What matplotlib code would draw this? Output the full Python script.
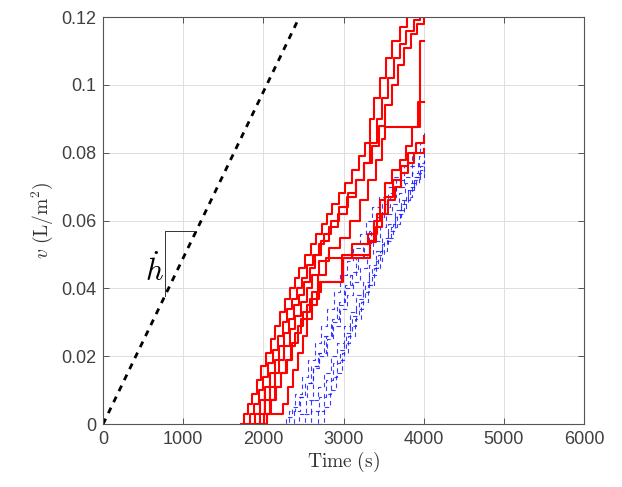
import matplotlib
matplotlib.use("Agg")
import matplotlib.pyplot as plt
import numpy as np

plt.rcParams['mathtext.fontset'] = 'cm'
plt.rcParams['font.family'] = ['Liberation Sans', 'DejaVu Sans']

# --- data -------------------------------------------------------------
# reference line (constant rate h-dot)
ref_t = [0, 2450]
ref_v = [0.0, 0.12]

# slope triangle
tri_t = [773, 773, 1160]
tri_v = [0.0379, 0.0569, 0.0569]

# red (solid) step curves: time (s), v (L/m^2)
red_t = [
    [1720, 1760, 1810, 1860, 1920, 1970, 2030, 2090, 2150, 2210, 2270, 2330, 2390, 2450, 2520, 2590, 2660, 2730, 2790, 2860, 2940, 3020, 3100, 3190, 3270, 3330, 3380, 3460, 3530, 3600, 3700, 3790, 4000],
    [1780, 1830, 1880, 1940, 2000, 2060, 2120, 2180, 2240, 2300, 2360, 2420, 2480, 2550, 2620, 2690, 2760, 2840, 2940, 3050, 3150, 3250, 3330, 3420, 3480, 3560, 3630, 3700, 3780, 3880, 3960, 4000],
    [1850, 1900, 1960, 2020, 2080, 2140, 2200, 2260, 2320, 2380, 2440, 2510, 2580, 2650, 2720, 2820, 2930, 3040, 3150, 3260, 3350, 3440, 3520, 3600, 3680, 3760, 3840, 3920, 4000],
    [1900, 1960, 2020, 2080, 2140, 2200, 2260, 2330, 2400, 2470, 2540, 2610, 2700, 2820, 2950, 3080, 3200, 3310, 3400, 3480, 3520, 3950, 4000],
    [1950, 2010, 2080, 2150, 2220, 2290, 2360, 2430, 2500, 2580, 2700, 2980, 3330, 3380, 3450, 3520, 3600, 3700, 3780, 3860, 3930, 4000],
    [2000, 2050, 2250, 2310, 2370, 2430, 2490, 2550, 2610, 2670, 2720, 2990, 3100, 3300, 3420, 3520, 3620, 3720, 3800, 3900, 4000],
    [1980, 2040, 2100, 2160, 2220, 2280, 2340, 2400, 2470, 2540, 2610, 2680, 2780, 3330, 3400, 3480, 3560, 3640, 3720, 3800, 3880, 4000],
]
red_v = [
    [0, 0.003, 0.006, 0.009, 0.013, 0.017, 0.021, 0.025, 0.029, 0.033, 0.037, 0.040, 0.043, 0.046, 0.050, 0.053, 0.056, 0.059, 0.062, 0.065, 0.068, 0.071, 0.075, 0.079, 0.083, 0.090, 0.096, 0.102, 0.108, 0.113, 0.117, 0.120, 0.120],
    [0, 0.003, 0.006, 0.010, 0.014, 0.018, 0.022, 0.026, 0.030, 0.034, 0.037, 0.040, 0.043, 0.047, 0.050, 0.053, 0.056, 0.060, 0.064, 0.068, 0.072, 0.077, 0.083, 0.090, 0.096, 0.102, 0.108, 0.112, 0.116, 0.119, 0.120, 0.120],
    [0, 0.003, 0.007, 0.011, 0.015, 0.019, 0.023, 0.027, 0.031, 0.035, 0.038, 0.042, 0.046, 0.050, 0.054, 0.058, 0.062, 0.067, 0.072, 0.077, 0.082, 0.088, 0.094, 0.100, 0.106, 0.111, 0.115, 0.118, 0.120],
    [0, 0.003, 0.007, 0.011, 0.015, 0.019, 0.023, 0.028, 0.032, 0.036, 0.040, 0.044, 0.048, 0.052, 0.055, 0.060, 0.066, 0.072, 0.078, 0.084, 0.0876, 0.113, 0.113],
    [0, 0.003, 0.007, 0.011, 0.015, 0.019, 0.024, 0.029, 0.033, 0.037, 0.042, 0.050, 0.054, 0.060, 0.066, 0.071, 0.075, 0.078, 0.082, 0.0876, 0.095, 0.095],
    [0, 0.003, 0.006, 0.011, 0.016, 0.021, 0.026, 0.031, 0.035, 0.039, 0.042, 0.049, 0.053, 0.056, 0.062, 0.067, 0.072, 0.076, 0.080, 0.083, 0.085],
    [0, 0.003, 0.007, 0.011, 0.015, 0.019, 0.023, 0.027, 0.031, 0.035, 0.039, 0.044, 0.049, 0.0537, 0.058, 0.062, 0.066, 0.070, 0.074, 0.077, 0.080, 0.081],
]

# blue (dashed) step curves
blue_t = [
    [2250, 2320, 2400, 2480, 2560, 2640, 2720, 2800, 2880, 2960, 3040, 3120, 3200, 3280, 3360, 3440, 3520, 3600, 3700, 3800, 3900, 4000],
    [2300, 2380, 2460, 2540, 2620, 2700, 2780, 2860, 2940, 3020, 3100, 3180, 3260, 3340, 3420, 3500, 3580, 3660, 3750, 3850, 3940, 4000],
    [2380, 2450, 2530, 2620, 2700, 2790, 2870, 2950, 3040, 3120, 3200, 3290, 3370, 3450, 3530, 3610, 3690, 3770, 3850, 3930, 4000],
    [2450, 2520, 2600, 2680, 2760, 2840, 2920, 3000, 3080, 3160, 3240, 3320, 3400, 3480, 3560, 3640, 3720, 3800, 3880, 3960, 4000],
    [2520, 2600, 2690, 2780, 2870, 2950, 3030, 3110, 3190, 3270, 3350, 3430, 3510, 3590, 3670, 3750, 3830, 3910, 4000],
    [2600, 2680, 2760, 2840, 2920, 3000, 3080, 3160, 3240, 3320, 3400, 3480, 3560, 3640, 3720, 3800, 3880, 3960, 4000],
    [2680, 2760, 2830, 2900, 2980, 3060, 3140, 3220, 3300, 3380, 3460, 3540, 3620, 3700, 3780, 3860, 3940, 4000],
    [2200, 2280, 2360, 2440, 2520, 2600, 2680, 2760, 2840, 2920, 3000, 3080, 3160, 3240, 3320, 3400, 3480, 3560, 3650, 3750, 3850, 3950, 4000],
]
blue_v = [
    [0, 0.004, 0.009, 0.014, 0.019, 0.024, 0.029, 0.034, 0.039, 0.044, 0.048, 0.052, 0.056, 0.060, 0.064, 0.067, 0.070, 0.073, 0.076, 0.080, 0.083, 0.086],
    [0, 0.004, 0.008, 0.012, 0.017, 0.021, 0.026, 0.031, 0.036, 0.041, 0.045, 0.049, 0.053, 0.057, 0.061, 0.064, 0.067, 0.070, 0.073, 0.076, 0.079, 0.081],
    [0, 0.003, 0.007, 0.0165, 0.020, 0.025, 0.029, 0.034, 0.038, 0.042, 0.046, 0.050, 0.054, 0.058, 0.062, 0.065, 0.068, 0.071, 0.074, 0.077, 0.079],
    [0, 0.003, 0.007, 0.011, 0.015, 0.020, 0.024, 0.029, 0.033, 0.038, 0.042, 0.047, 0.051, 0.055, 0.059, 0.063, 0.066, 0.069, 0.072, 0.075, 0.076],
    [0, 0.004, 0.008, 0.013, 0.018, 0.022, 0.027, 0.032, 0.037, 0.041, 0.046, 0.050, 0.054, 0.058, 0.062, 0.066, 0.070, 0.073, 0.075],
    [0, 0.004, 0.009, 0.014, 0.019, 0.024, 0.029, 0.034, 0.039, 0.044, 0.048, 0.053, 0.057, 0.061, 0.065, 0.069, 0.073, 0.076, 0.078],
    [0, 0.005, 0.010, 0.015, 0.021, 0.026, 0.031, 0.036, 0.041, 0.046, 0.051, 0.055, 0.059, 0.063, 0.067, 0.071, 0.074, 0.076],
    [0, 0.002, 0.005, 0.008, 0.012, 0.017, 0.021, 0.026, 0.030, 0.035, 0.040, 0.044, 0.049, 0.053, 0.057, 0.061, 0.065, 0.068, 0.072, 0.076, 0.080, 0.083, 0.084],
]

xticks = [0, 1000, 2000, 3000, 4000, 5000, 6000]
yticks = [0, 0.02, 0.04, 0.06, 0.08, 0.1, 0.12]
ytick_labels = ['0', '0.02', '0.04', '0.06', '0.08', '0.1', '0.12']

# --- figure -----------------------------------------------------------
fig = plt.figure(figsize=(6.22, 4.87), dpi=100)
ax = fig.add_axes([0.1656, 0.129, 0.7734, 0.836])

for t, v in zip(blue_t, blue_v):
    ax.plot(t, v, drawstyle='steps-post', color=(0.1, 0.1, 1.0), lw=0.8,
            ls=(0, (4, 3)), alpha=0.85)
for t, v in zip(red_t, red_v):
    ax.plot(t, v, drawstyle='steps-post', color=(1.0, 0.0, 0.0), lw=1.5)

ax.plot(ref_t, ref_v, color='k', lw=2.0, ls=(0, (2.2, 2.2)))
ax.plot(tri_t, tri_v, color='#333333', lw=0.7)
ax.text(640, 0.0452, r'$\dot{h}$', fontsize=22, ha='center', va='center')

ax.set_xlim(0, 6000)
ax.set_ylim(0, 0.12)
ax.set_xticks(xticks)
ax.set_yticks(yticks)
ax.set_xticklabels([str(x) for x in xticks])
ax.set_yticklabels(ytick_labels)
ax.tick_params(direction='in', length=4, width=0.6, colors='#404040',
               labelsize=13, top=True, right=True, pad=5)
ax.grid(True, color='#dedede', lw=0.7)
ax.set_axisbelow(True)
for s in ax.spines.values():
    s.set_color('#555555')
    s.set_linewidth(0.8)

ax.set_xlabel(r'$\mathrm{Time\ (s)}$', fontsize=14, color='#333333', labelpad=1)
ax.set_ylabel(r'$v\ (\mathrm{L/m^2})$', fontsize=14, color='#333333', labelpad=4)

fig.savefig('out.png', dpi=100)
